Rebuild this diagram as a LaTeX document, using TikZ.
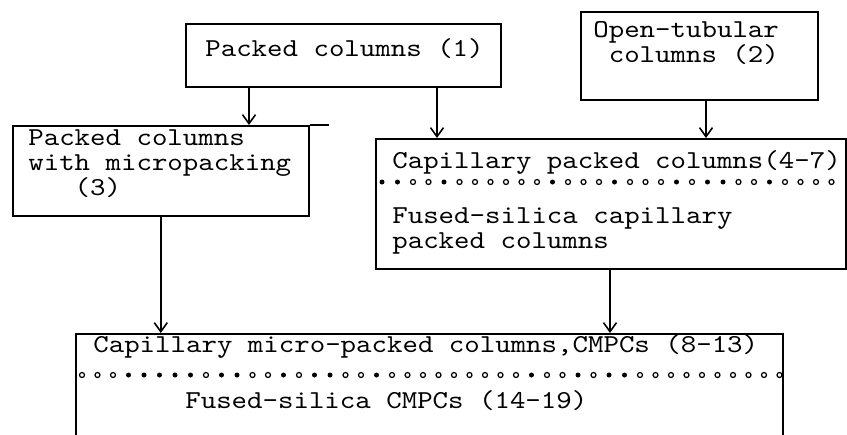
\documentclass[tikz,border=0pt]{standalone}
\usepackage{fontspec}
\setmonofont{lmmono10-regular.otf}[FakeStretch=1.14]
\usetikzlibrary{arrows.meta}
\tikzset{>={Straight Barb[length=1.8mm,width=2.6mm]}}
\tikzset{
  colbox/.style={draw, line width=0.9pt, inner sep=0pt, anchor=north west},
  txt/.style={inner sep=0pt, align=left, anchor=base west,
    font=\ttfamily\fontsize{14.7}{14.2}\selectfont},
  link/.style={->, line width=0.9pt},
  fulldot/.style={radius=0.05},
  opendot/.style={line width=0.7pt, radius=0.05}
}

\begin{document}
\begin{tikzpicture}
    \useasboundingbox (0,0) rectangle (16.94,8.68);
    % column boxes
    \node[colbox, minimum width=6.30cm, minimum height=1.26cm] (p1) at (3.70,8.22) {};
    \node[colbox, minimum width=4.74cm, minimum height=1.76cm] (p2) at (11.60,8.46) {};
    \node[colbox, minimum width=5.92cm, minimum height=1.80cm] (p3) at (0.24,6.18) {};
    \node[colbox, minimum width=9.40cm, minimum height=2.60cm] (p4) at (7.50,5.92) {};
    \node[colbox, minimum width=14.14cm, minimum height=2.40cm] (p5) at (1.50,2.02) {};
    \draw[line width=0.9pt] (p3.north east) -- ++(0.38,0);
    % texts (base is the last line)
    \node[txt] (t1) at (4.10,7.54) {Packed columns (1)};
    \node[txt] (t2) at (11.86,7.44) {Open-tubular\\\hphantom{x}columns (2)};
    \node[txt] (t3) at (0.56,4.78) {Packed columns\\with micropacking\\\hphantom{xxx}(3)};
    \node[txt] (t4a) at (7.84,5.32) {Capillary packed columns(4-7)};
    \node[txt] (t4b) at (7.84,3.72) {Fused-silica capillary\\packed columns};
    \node[txt] (t5a) at (1.86,1.64) {Capillary micro-packed columns,CMPCs (8-13)};
    \node[txt] (t5b) at (3.70,0.52) {Fused-silica CMPCs (14-19)};
    % dotted separators
    \foreach \k [count=\i from 0] in {1,1,0,0,1,0,0,0,0,0,0,1,0,0,0,1,0,0,0,1,0,1,1,0,0,1,0,0,0,0} {
        \ifnum\k=1 \fill[fulldot] (7.64+\i*0.31,5.04) circle;
        \else \draw[opendot] (7.64+\i*0.31,5.04) circle; \fi
    }
    \foreach \k [count=\i from 0] in {0,0,0,1,1,1,1,1,0,1,1,0,0,1,0,1,1,0,0,1,0,0,0,0,0,0,0,0,0,1,0,0,1,0,1,1,0,0,0,0,0,0,0,0,0,0} {
        \ifnum\k=1 \fill[fulldot] (1.64+\i*0.31,1.18) circle;
        \else \draw[opendot] (1.64+\i*0.31,1.18) circle; \fi
    }
    % arrows
    \coordinate (a13) at ([xshift=1.28cm]p1.south west);
    \coordinate (a14) at ([xshift=5.04cm]p1.south west);
    \coordinate (a24) at ([xshift=2.52cm]p2.south west);
    \coordinate (a45) at ([xshift=4.70cm]p4.south west);
    \draw[link] (a13) -- (a13 |- p3.north);
    \draw[link] (a14) -- (a14 |- p4.north);
    \draw[link] (a24) -- (a24 |- p4.north);
    \draw[link] (p3.south) -- (p3.south |- p5.north);
    \draw[link] (a45) -- (a45 |- p5.north);
\end{tikzpicture}
\end{document}
